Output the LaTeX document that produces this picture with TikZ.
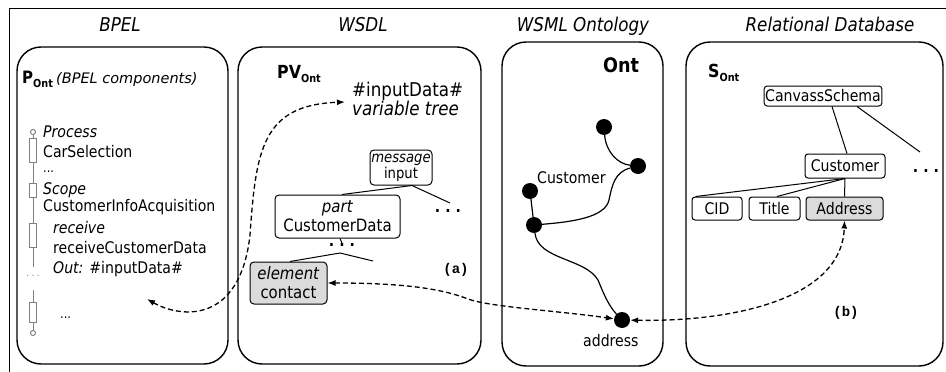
\documentclass[tikz,border=0pt]{standalone}
\usepackage{fontspec}
\setmainfont{DejaVu Sans}[FakeStretch=0.88]
\setmonofont{Liberation Mono}
\newfontfamily\wideit{DejaVu Sans}
\usetikzlibrary{arrows.meta}
\definecolor{boxgray}{gray}{0.86}
\newcommand\subOnt{\raisebox{-4pt}{\fontsize{11}{11}\selectfont Ont}}
\begin{document}
\begin{tikzpicture}[x=1pt,y=-1pt,
  panel/.style={draw, line width=1.4pt, rounded corners=24pt},
  ttl/.style={font=\fontsize{19}{22}\selectfont\itshape, anchor=base, inner sep=0},
  txt/.style={font=\fontsize{16}{19}\selectfont, anchor=base west, inner sep=0},
  itxt/.style={txt, font=\fontsize{16}{19}\selectfont\itshape},
  bigtxt/.style={font=\fontsize{19}{22}\selectfont, anchor=base west, inner sep=0},
  hdr/.style={font=\fontsize{18}{20}\selectfont\bfseries, anchor=base west, inner sep=0},
  bx/.style={draw, rounded corners=4pt, line width=1pt, align=center, inner sep=1pt, font=\fontsize{16}{17}\selectfont},
  rbx/.style={draw, rounded corners=3pt, line width=1pt, inner sep=1pt, font=\fontsize{16}{17}\selectfont},
  dotnode/.style={circle, fill=black, minimum size=16pt, inner sep=0},
  edge/.style={line width=1.2pt},
  thin/.style={line width=1pt},
  dashar/.style={line width=1.3pt, dash pattern=on 5pt off 3pt, {Latex[length=8pt,width=6pt]}-{Latex[length=8pt,width=6pt]}},
  tree/.style={draw=gray, line width=1pt},
  res/.style={draw=gray, fill=white, line width=1pt, minimum width=7pt, inner sep=0},
  gcirc/.style={circle, draw=gray, fill=white, line width=1pt, minimum size=5pt, inner sep=0},
  wdots/.style={font=\fontsize{16}{16}\selectfont\bfseries, inner sep=0},
  lab/.style={font=\fontsize{14}{14}\selectfont\ttfamily\bfseries, inner sep=0}
]
\useasboundingbox (0,0) rectangle (946,372);
% outer frame
\draw[line width=1pt] (946,8.5) -- (9.5,8.5) -- (9.5,372);
% panels
\draw[panel] (17,47) rectangle (228,364);
\draw[panel] (238,47) rectangle (481,364);
\draw[panel] (502,42) rectangle (663,366);
\draw[panel] (686,42) rectangle (943,366);
% titles
\node[ttl] (tBPEL) at (120,31) {BPEL};
\node[ttl] (tWSDL) at (363,31) {WSDL};
\node[ttl] (tWSML) at (583,31) {WSML Ontology};
\node[ttl] (tRDB) at (830,31) {Relational Database};
% ---------- BPEL ----------
\node[hdr, font=\fontsize{17}{20}\selectfont\bfseries] (pont) at (22,83) {P\subOnt};
\node[anchor=base west, inner sep=0, font=\fontsize{14.5}{16}\selectfont\wideit\itshape] (bpelc) at (56,83) {(BPEL components)};
\node[gcirc] (c1) at (33,132) {};
\node[res, minimum height=24pt] (r1) at (33,150) {};
\node[res, minimum height=14pt] (r2) at (33,190) {};
\node[res, minimum height=24pt] (r3) at (33,235) {};
\coordinate (t1) at (33,267);
\coordinate (t2) at (33,290);
\node[res, minimum height=20pt] (r4) at (33,312) {};
\node[gcirc] (c2) at (33,333) {};
\draw[tree] (c1) -- (r1) -- (r2) -- (r3) -- (t1);
\draw[tree] (t2) -- (r4) -- (c2);
\node[inner sep=0, text=gray, font=\fontsize{10}{10}\selectfont] (gdots) at (33,276) {.\hspace{2.5pt}.\hspace{2.5pt}.};
\node[itxt] (proc) at (43,137) {Process};
\node[txt] (carsel) at (43,157) {CarSelection};
\node[txt, font=\fontsize{13}{13}\selectfont] (bd1) at (43,172) {...};
\node[itxt] (scope) at (43,194) {Scope};
\node[txt] (cia) at (43,211) {CustomerInfoAcquisition};
\node[itxt] (recv) at (53,233) {receive};
\node[txt] (rcd) at (53,253) {receiveCustomerData};
\node[txt] (outv) at (53,273) {\textit{Out:} \#inputData\#};
\node[txt, font=\fontsize{13}{13}\selectfont] (bd2) at (60,318) {...};
% ---------- WSDL ----------
\node[hdr] (pvont) at (277,78) {PV\subOnt};
\node[bigtxt] (ivt) at (352,96) {\#inputData\#};
\node[bigtxt, font=\fontsize{19}{22}\selectfont\itshape] (vtree) at (352,115) {variable tree};
\node[bx, minimum width=62pt, minimum height=35pt, font=\fontsize{15}{16}\selectfont] (msg) at (401,167.5) {\textit{message}\\input};
\node[bx, minimum width=125pt, minimum height=43pt, font=\fontsize{17}{19}\selectfont] (part) at (337.5,216.5) {\textit{part}\\CustomerData};
\node[bx, fill=boxgray, minimum width=77pt, minimum height=42pt, font=\fontsize{17}{19}\selectfont] (elem) at (288.5,283) {\textit{element}\\contact};
\node[wdots] (wd1) at (448,211) {.\hspace{5pt}.\hspace{5pt}.};
\node[wdots] (wd2) at (342,245) {.\hspace{5pt}.\hspace{5pt}.};
\coordinate (m1) at (450,203);
\coordinate (p1) at (342,243);
\coordinate (p2) at (340,253);
\coordinate (p3) at (373,261);
\draw[thin] ([xshift=11pt]msg.south) -- ([xshift=4.5pt]part.north);
\draw[thin] ([xshift=11pt]msg.south) -- (m1);
\draw[thin] ([xshift=2.5pt]part.south) -- (p1);
\draw[thin] (p2) -- ([xshift=1.5pt]elem.north);
\draw[thin] (p2) -- (p3);
\node[lab] (la) at (456,270) {(a)};
% ---------- Ontology ----------
\node[font=\fontsize{20}{22}\selectfont\bfseries, anchor=base west, inner sep=0] (ontl) at (603,72) {Ont};
\node[dotnode] (o1) at (604,127) {};
\node[dotnode] (o2) at (638,166) {};
\node[dotnode] (o3) at (530,191) {};
\node[dotnode] (o4) at (534,225) {};
\node[dotnode] (o5) at (622,320) {};
\node[txt] (custl) at (537,183) {Customer};
\node[txt] (addrl) at (583,346) {address};
\draw[edge] (o1) .. controls (606,152) and (618,164) .. (o2);
\draw[edge] (o2) .. controls (615,172) and (612,185) .. (609,200) .. controls (605,218) and (570,222) .. (o4);
\draw[edge] (o3) -- (o4);
\draw[edge] (o4) .. controls (538,260) and (585,258) .. (598,280) .. controls (603,292) and (608,305) .. (o5);
% ---------- RDB ----------
\node[hdr] (sont) at (708,77) {S\subOnt};
\node[rbx, minimum width=114pt, minimum height=20pt] (canv) at (823,96) {CanvassSchema};
\node[rbx, minimum width=80pt, minimum height=24pt] (cust) at (845,166) {Customer};
\node[rbx, minimum width=50pt, minimum height=23pt] (cid) at (717,208.5) {CID};
\node[rbx, minimum width=51pt, minimum height=23pt] (title) at (774.5,208.5) {Title};
\node[rbx, fill=boxgray, minimum width=77pt, minimum height=23pt] (addr) at (844.5,208.5) {Address};
\node[wdots] (rd) at (926,171) {.\hspace{5pt}.\hspace{5pt}.};
\coordinate (cv1) at (920,152);
\draw[thin] ([xshift=9pt]canv.south) -- ([xshift=2pt]cust.north);
\draw[thin] ([xshift=34pt]canv.south) -- (cv1);
\draw[thin] (cust.south) -- ([xshift=4pt]cid.north west);
\draw[thin] (cust.south) -- ([xshift=2.5pt]title.north);
\draw[thin] (cust.south) -- (addr.north);
\node[lab] (lb) at (846,313) {(b)};
% ---------- dashed mappings ----------
\coordinate (bpelend) at (147,299);
\coordinate (wsdlend) at (345,102);
\draw[dashar] (bpelend) .. controls (180,318) and (240,325) .. (250,235) .. controls (256,150) and (262,105) .. (wsdlend);
\draw[dashar] (elem.east) .. controls (400,283) and (440,288) .. (468,299) .. controls (490,307) and (560,311) .. (o5);
\draw[dashar] (o5) .. controls (730,322) and (842,300) .. (addr.south);
\end{tikzpicture}
\end{document}
